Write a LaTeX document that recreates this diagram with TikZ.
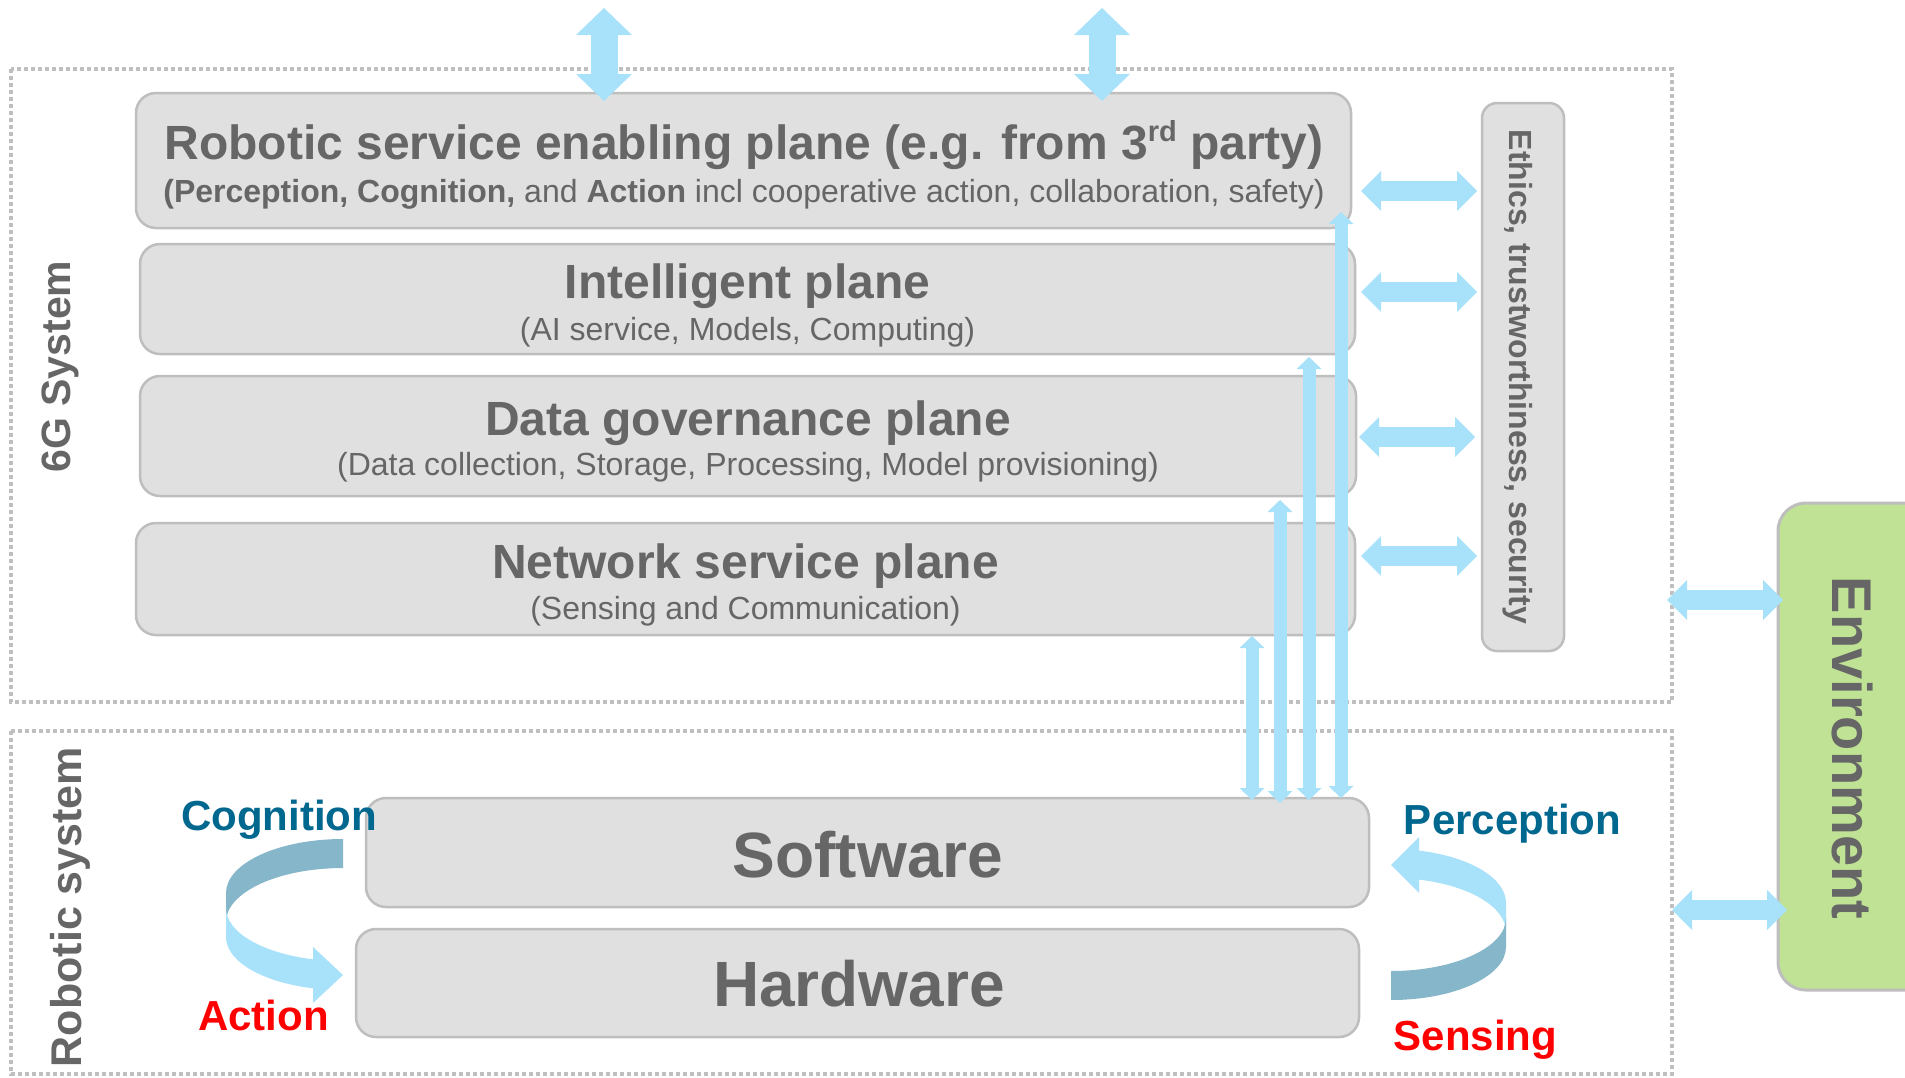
\documentclass[tikz,border=0pt]{standalone}
\usepackage{fontspec}
\setmainfont{Liberation Sans}
\usetikzlibrary{arrows.meta}

\definecolor{boxfill}{RGB}{224,224,224}
\definecolor{boxline}{RGB}{190,190,190}
\definecolor{txtgray}{RGB}{102,102,102}
\definecolor{frameline}{RGB}{191,191,191}
\definecolor{arrowblue}{RGB}{168,226,250}
\definecolor{ribbondark}{RGB}{134,182,202}
\definecolor{envgreen}{RGB}{191,226,148}
\definecolor{cogteal}{RGB}{0,103,143}
\definecolor{actred}{RGB}{255,0,0}

\newcommand{\fsz}[1]{\fontsize{#1pt}{#1pt}\selectfont}

\begin{document}
\begin{tikzpicture}[x=1pt, y=-1pt,
  plane/.style={draw=boxline, line width=2.5pt, fill=boxfill, rounded corners=20pt, inner sep=0pt, outer sep=0pt},
  frame/.style={draw=frameline, line width=3.5pt, dash pattern=on 4pt off 3pt},
  title/.style={text=txtgray, font=\bfseries\fsz{48}, anchor=base, inner sep=0pt},
  subtitle/.style={text=txtgray, font=\fsz{32}, anchor=base, inner sep=0pt},
  sidelabel/.style={text=txtgray, font=\bfseries\fsz{41}, anchor=base, inner sep=0pt, rotate=90},
  looplabel/.style={font=\bfseries\fsz{42}, anchor=base, inner sep=0pt},
  hwlabel/.style={text=txtgray, font=\bfseries\fsz{64}, anchor=base, inner sep=0pt},
  bigbar/.style={draw=arrowblue, line width=27pt,
    arrows={Triangle[width=56pt,length=27pt,line width=0pt]-Triangle[width=56pt,length=27pt,line width=0pt]}},
  hbar/.style={draw=arrowblue, line width=20pt,
    arrows={Triangle[width=40pt,length=20pt,line width=0pt]-Triangle[width=40pt,length=20pt,line width=0pt]}},
  vbar/.style={draw=arrowblue, line width=13pt,
    arrows={Triangle[width=25pt,length=12pt,line width=0pt]-Triangle[width=25pt,length=12pt,line width=0pt]}}
]
\clip (0,0) rectangle (1905,1077);
\fill[white] (0,0) rectangle (1905,1077);

% dotted system frames
\draw[frame] (11,69) rectangle (1672,702);
\draw[frame] (11,731) rectangle (1672,1074);

% 6G planes
\node[plane, minimum width=1215pt, minimum height=135pt] (rse) at (743.5,160.5) {};
\node[plane, minimum width=1215pt, minimum height=110pt] (intel) at (747.5,299) {};
\node[plane, minimum width=1216pt, minimum height=120pt] (data) at (748,436) {};
\node[plane, minimum width=1219pt, minimum height=112pt] (net) at (745.5,579) {};

\node[title] (rset) at (744,159) {Robotic service enabling plane (e.g. from 3\raisebox{0.36em}{\fsz{29}rd} party)};
\node[subtitle] (rses) at (744,202) {{\bfseries (Perception, Cognition,} and {\bfseries Action} incl cooperative action, collaboration, safety)};
\node[title] (intelt) at (747.5,298) {Intelligent plane};
\node[subtitle] (intels) at (747.5,340) {(AI service, Models, Computing)};
\node[title] (datat) at (748,435) {Data governance plane};
\node[subtitle] (datas) at (748,475.5) {(Data collection, Storage, Processing, Model provisioning)};
\node[title] (nett) at (745.5,578) {Network service plane};
\node[subtitle] (nets) at (745.5,619) {(Sensing and Communication)};

% ethics column
\node[plane, rounded corners=15pt, minimum width=82pt, minimum height=548pt] (eth) at (1523,377) {};
\node[text=txtgray, font=\bfseries\fsz{32}, anchor=base, inner sep=0pt, rotate=-90] (etht) at (1509,377) {Ethics, trustworthiness, security};

% environment
\node[draw=boxline, line width=3pt, fill=envgreen, rounded corners=28pt, minimum width=162pt, minimum height=487pt, inner sep=0pt] (env) at (1859,746.5) {};
\node[text=txtgray, font=\bfseries\fsz{56}, anchor=base, inner sep=0pt, rotate=-90] (envt) at (1832,748) {Environment};

% robot boxes
\node[plane, minimum width=1003pt, minimum height=109pt] (sw) at (867.5,852.5) {};
\node[plane, minimum width=1003pt, minimum height=108pt] (hw) at (857.5,983) {};
\node[hwlabel] (swt) at (868,877) {Software};
\node[hwlabel] (hwt) at (859,1006) {Hardware};

% side labels
\node[sidelabel] (sys6g) at (70,366.5) {6G System};
\node[sidelabel, font=\bfseries\fsz{43}] (sysrob) at (81,907) {Robotic system};

% loop labels
\node[looplabel, text=cogteal] (cog) at (279,830) {Cognition};
\node[looplabel, text=actred] (act) at (263.5,1030) {Action};
\node[looplabel, text=cogteal] (per) at (1512.5,834) {Perception};
\node[looplabel, text=actred] (sen) at (1475.5,1050) {Sensing};

% cognition -> action ribbon
\fill[ribbondark] (343,839) .. controls (278.4,839) and (226,863.2) .. (226,893)
  -- (226,922) .. controls (226,892.2) and (278.4,868) .. (343,868) -- cycle;
\fill[arrowblue] (226,908) .. controls (226,932.6) and (263,953.3) .. (313,959.3)
  -- (313,988.3) .. controls (263,982.3) and (226,961.6) .. (226,937) -- cycle;
\fill[arrowblue] (313,947) -- (343,975) -- (313,1003) -- cycle;

% sensing -> perception ribbon
\fill[arrowblue] (1419,850.6) .. controls (1468.9,856.5) and (1506,877.7) .. (1506,903)
  -- (1506,932) .. controls (1506,906.7) and (1468.9,885.5) .. (1419,879.6) -- cycle;
\fill[arrowblue] (1419,837) -- (1391,865) -- (1419,893) -- cycle;
\fill[ribbondark] (1506,918) .. controls (1506,947.3) and (1454.5,971) .. (1391,971)
  -- (1391,1000) .. controls (1454.5,1000) and (1506,976.3) .. (1506,947) -- cycle;

% arrow end points
\coordinate (t1a) at (604,8);   \coordinate (t1b) at (604,101);
\coordinate (t2a) at (1102,8);  \coordinate (t2b) at (1102,101);
\coordinate (h1a) at (1361,191); \coordinate (h1b) at (1477,191);
\coordinate (h2a) at (1361,292); \coordinate (h2b) at (1477,292);
\coordinate (h3a) at (1359,437); \coordinate (h3b) at (1475,437);
\coordinate (h4a) at (1361,556); \coordinate (h4b) at (1477,556);
\coordinate (e1a) at (1667,600); \coordinate (e1b) at (1783,600);
\coordinate (e2a) at (1672,910); \coordinate (e2b) at (1787,910);
\coordinate (v1a) at (1252,636); \coordinate (v1b) at (1252,800);
\coordinate (v2a) at (1280,500); \coordinate (v2b) at (1280,803);
\coordinate (v3a) at (1309,357); \coordinate (v3b) at (1309,800);
\coordinate (v4a) at (1341,212); \coordinate (v4b) at (1341,798);

% links
\draw[bigbar] (t1a) -- (t1b);
\draw[bigbar] (t2a) -- (t2b);
\draw[hbar] (h1a) -- (h1b);
\draw[hbar] (h2a) -- (h2b);
\draw[hbar] (h3a) -- (h3b);
\draw[hbar] (h4a) -- (h4b);
\draw[hbar] (e1a) -- (e1b);
\draw[hbar] (e2a) -- (e2b);
\draw[vbar] (v1a) -- (v1b);
\draw[vbar] (v2a) -- (v2b);
\draw[vbar] (v3a) -- (v3b);
\draw[vbar] (v4a) -- (v4b);
\end{tikzpicture}
\end{document}
